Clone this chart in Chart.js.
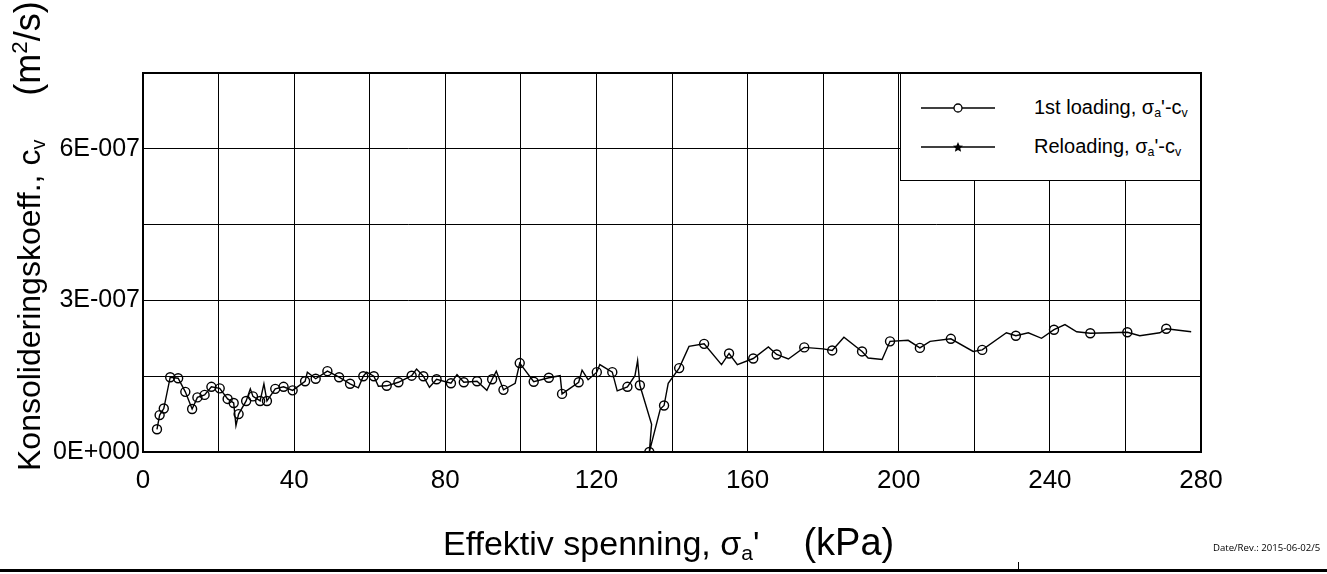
<!DOCTYPE html>
<html>
<head>
<meta charset="utf-8">
<script src="https://cdn.jsdelivr.net/npm/chart.js@4/dist/chart.umd.min.js"></script>
<style>
  html, body { margin:0; padding:0; background:#fff; }
  #wrap { position:relative; width:1327px; height:574px; overflow:hidden; font-family:"Liberation Sans", Arial, sans-serif; }
  #c { position:absolute; left:0; top:0; }
  .ytitle { position:absolute; left:0px; top:471px; transform-origin:0 0; transform:rotate(-90deg); white-space:nowrap; font-size:32px; color:#000; line-height:40px; }
  .ytitle .unit { font-size:36px; margin-left:44px; }
  .xtitle { position:absolute; left:443px; top:522px; white-space:nowrap; font-size:34px; color:#000; line-height:40px; }
  .xtitle .unit { font-size:38px; margin-left:44px; }
  sub, sup { font-size:62%; }
  sub { vertical-align:-0.25em; }
  sup { vertical-align:0.6em; }
  #legend { position:absolute; left:900px; top:73px; width:299px; height:106px; border:1.5px solid #000; background:#fff; z-index:2; }
  .lrow { position:absolute; left:20px; height:26px; display:flex; align-items:center; font-size:20px; white-space:nowrap; }
  .lrow svg { margin-right:39px; }
  #date { position:absolute; left:1213px; top:541px; font-size:9.6px; font-family:"Open Sans", sans-serif; color:#000; white-space:nowrap; }
  #bline { position:absolute; left:0; top:569px; width:1327px; height:3px; background:#000; }
  #btick { position:absolute; left:1018px; top:562px; width:1px; height:7px; background:#000; }
</style>
</head>
<body>
<div id="wrap">
  <canvas id="c" width="1327" height="574"></canvas>
  <div class="ytitle">Konsolideringskoeff., c<sub>v</sub><span class="unit">(m<sup>2</sup>/s)</span></div>
  <div class="xtitle">Effektiv spenning, σ<sub>a</sub>'<span class="unit">(kPa)</span></div>
  <div id="legend">
    <div class="lrow" style="top:21px">
      <svg width="74" height="14"><line x1="0" y1="7" x2="74" y2="7" stroke="#000" stroke-width="1.3"/><circle cx="37" cy="7" r="4" fill="#fff" stroke="#000" stroke-width="1.3"/></svg>
      <span>1st loading, σ<sub>a</sub>'-c<sub>v</sub></span>
    </div>
    <div class="lrow" style="top:60px">
      <svg width="74" height="14"><line x1="0" y1="7" x2="74" y2="7" stroke="#000" stroke-width="1.3"/><polygon points="37,2 38.5,5.5 42,5.8 39.3,8.2 40.1,11.8 37,9.9 33.9,11.8 34.7,8.2 32,5.8 35.5,5.5" fill="#000"/></svg>
      <span>Reloading, σ<sub>a</sub>'-c<sub>v</sub></span>
    </div>
  </div>
  <div id="date">Date/Rev.: 2015-06-02/5</div>
  <div id="bline"></div>
  <div id="btick"></div>
</div>
<script>
// Effective stress (kPa) for 1st loading
const stress = [3.7,4.4,5.5,7.2,9.3,11.2,13.0,14.4,16.3,18.1,20.3,22.4,24.0,24.6,25.3,27.3,28.4,29.1,31.0,32.0,32.8,35.0,37.2,39.6,
  42.9,43.5,45.7,48.8,51.9,54.8,57.0,58.3,59.2,61.1,62.3,64.5,67.6,71.1,72.4,74.2,75.8,77.7,81.5,83.1,84.9,88.4,91.0,92.4,93.5,95.4,98.5,99.7,
  103.4,107.4,110.4,110.9,115.3,116.2,117.8,120.1,120.9,124.2,125.5,128.2,130.2,130.9,131.5,134.6,134.0,136.9,137.9,139.0,141.9,144.5,148.5,
  153.1,155.1,157.3,161.5,165.5,167.7,170.8,175.0,180.0,182.4,185.5,190.3,191.9,195.6,197.7,202.5,205.6,208.3,213.8,219.7,222.1,228.5,231.0,
  234.3,237.8,241.1,244.0,247.1,250.7,255.9,260.5,263.8,269.1,270.8,277.4];
// Consolidation coefficient cv (m2/s) for 1st loading
const cv = [0.45e-7,0.73e-7,0.86e-7,1.48e-7,1.46e-7,1.19e-7,0.85e-7,1.08e-7,1.13e-7,1.29e-7,1.26e-7,1.05e-7,0.97e-7,0.52e-7,0.75e-7,1.01e-7,1.25e-7,1.10e-7,1.01e-7,1.35e-7,1.01e-7,1.25e-7,1.29e-7,1.22e-7,
  1.40e-7,1.58e-7,1.45e-7,1.60e-7,1.48e-7,1.35e-7,1.27e-7,1.50e-7,1.58e-7,1.50e-7,1.30e-7,1.31e-7,1.38e-7,1.51e-7,1.64e-7,1.50e-7,1.28e-7,1.44e-7,1.36e-7,1.53e-7,1.38e-7,1.40e-7,1.22e-7,1.44e-7,1.60e-7,1.23e-7,1.36e-7,1.76e-7,
  1.39e-7,1.47e-7,1.51e-7,1.15e-7,1.38e-7,1.62e-7,1.43e-7,1.58e-7,1.73e-7,1.58e-7,1.21e-7,1.29e-7,1.51e-7,1.81e-7,1.32e-7,0.55e-7,0.0,0.85e-7,0.92e-7,1.36e-7,1.66e-7,2.09e-7,2.14e-7,
  1.73e-7,1.95e-7,1.73e-7,1.85e-7,2.08e-7,1.93e-7,1.84e-7,2.07e-7,2.04e-7,2.01e-7,2.27e-7,1.99e-7,1.86e-7,1.83e-7,2.19e-7,2.21e-7,2.06e-7,2.19e-7,2.24e-7,1.99e-7,2.02e-7,2.36e-7,2.30e-7,
  2.36e-7,2.25e-7,2.42e-7,2.52e-7,2.38e-7,2.35e-7,2.36e-7,2.37e-7,2.30e-7,2.36e-7,2.44e-7,2.38e-7];
// 1 = measured point drawn with a circle marker
const marked = [1,1,1,1,1,1,1,1,1,1,1,1,1,0,1,1,0,1,1,0,1,1,1,1,
  1,0,1,1,1,1,0,1,0,1,0,1,1,1,0,1,0,1,1,0,1,1,0,1,0,1,0,1,
  1,1,0,1,1,0,0,1,0,1,0,1,0,0,1,0,1,0,1,0,1,0,1,
  0,1,0,1,0,1,0,1,0,1,0,1,0,0,1,0,1,0,1,0,1,0,1,
  0,0,1,0,0,1,0,1,0,0,1,0];
const xTickStep = 20;
const xLabelEvery = 40;
const yTickLabels = ['0E+000','','3E-007','','6E-007',''];

const frame = {
  id:'frame',
  afterDraw(chart){
    const {ctx, chartArea:a} = chart;
    ctx.save();
    ctx.strokeStyle='#000'; ctx.lineWidth=2;
    ctx.strokeRect(a.left, a.top, a.right-a.left, a.bottom-a.top);
    ctx.restore();
  }
};

new Chart(document.getElementById('c'), {
  type:'scatter',
  data:{ datasets:[
    { label:"1st loading", data: stress.map((x,i)=>({x, y:cv[i]})), showLine:true, borderColor:'#000', borderWidth:1.4,
      pointStyle:'circle', pointRadius: marked.map(m=>m?4.5:0), pointHoverRadius: marked.map(m=>m?4.5:0),
      pointBackgroundColor:'rgba(0,0,0,0)', pointBorderColor:'#000', pointBorderWidth:1.4, tension:0 },
    { label:"Reloading", data:[], showLine:true, borderColor:'#000', pointStyle:'star' }
  ]},
  options:{
    responsive:false, animation:false, events:[],
    layout:{ padding:{ left:0, right:126, top:73, bottom:82 } },
    plugins:{ legend:{display:false}, tooltip:{enabled:false} },
    scales:{
      x:{ type:'linear', min:0, max:280,
          afterFit(s){ s.height = 40; },
          grid:{ color:'#000', lineWidth:1, drawTicks:false },
          border:{ display:true, color:'#000', width:2 },
          ticks:{ stepSize:xTickStep, padding:13, color:'#000', font:{family:'"Liberation Sans", Arial', size:26},
                  maxRotation:0, autoSkip:false,
                  callback:(v)=> (Math.round(v) % xLabelEvery === 0 ? String(Math.round(v)) : '') } },
      y:{ type:'linear', min:0, max:7.5e-7,
          afterFit(s){ s.width = 143; },
          grid:{ color:'#000', lineWidth:1, drawTicks:false },
          border:{ display:true, color:'#000', width:2 },
          ticks:{ stepSize:1.5e-7, padding:3, color:'#000', font:{family:'"Liberation Sans", Arial', size:25},
                  autoSkip:false, callback:(v,i)=> yTickLabels[i] ?? '' } }
    }
  },
  plugins:[frame]
});
</script>
</body>
</html>
